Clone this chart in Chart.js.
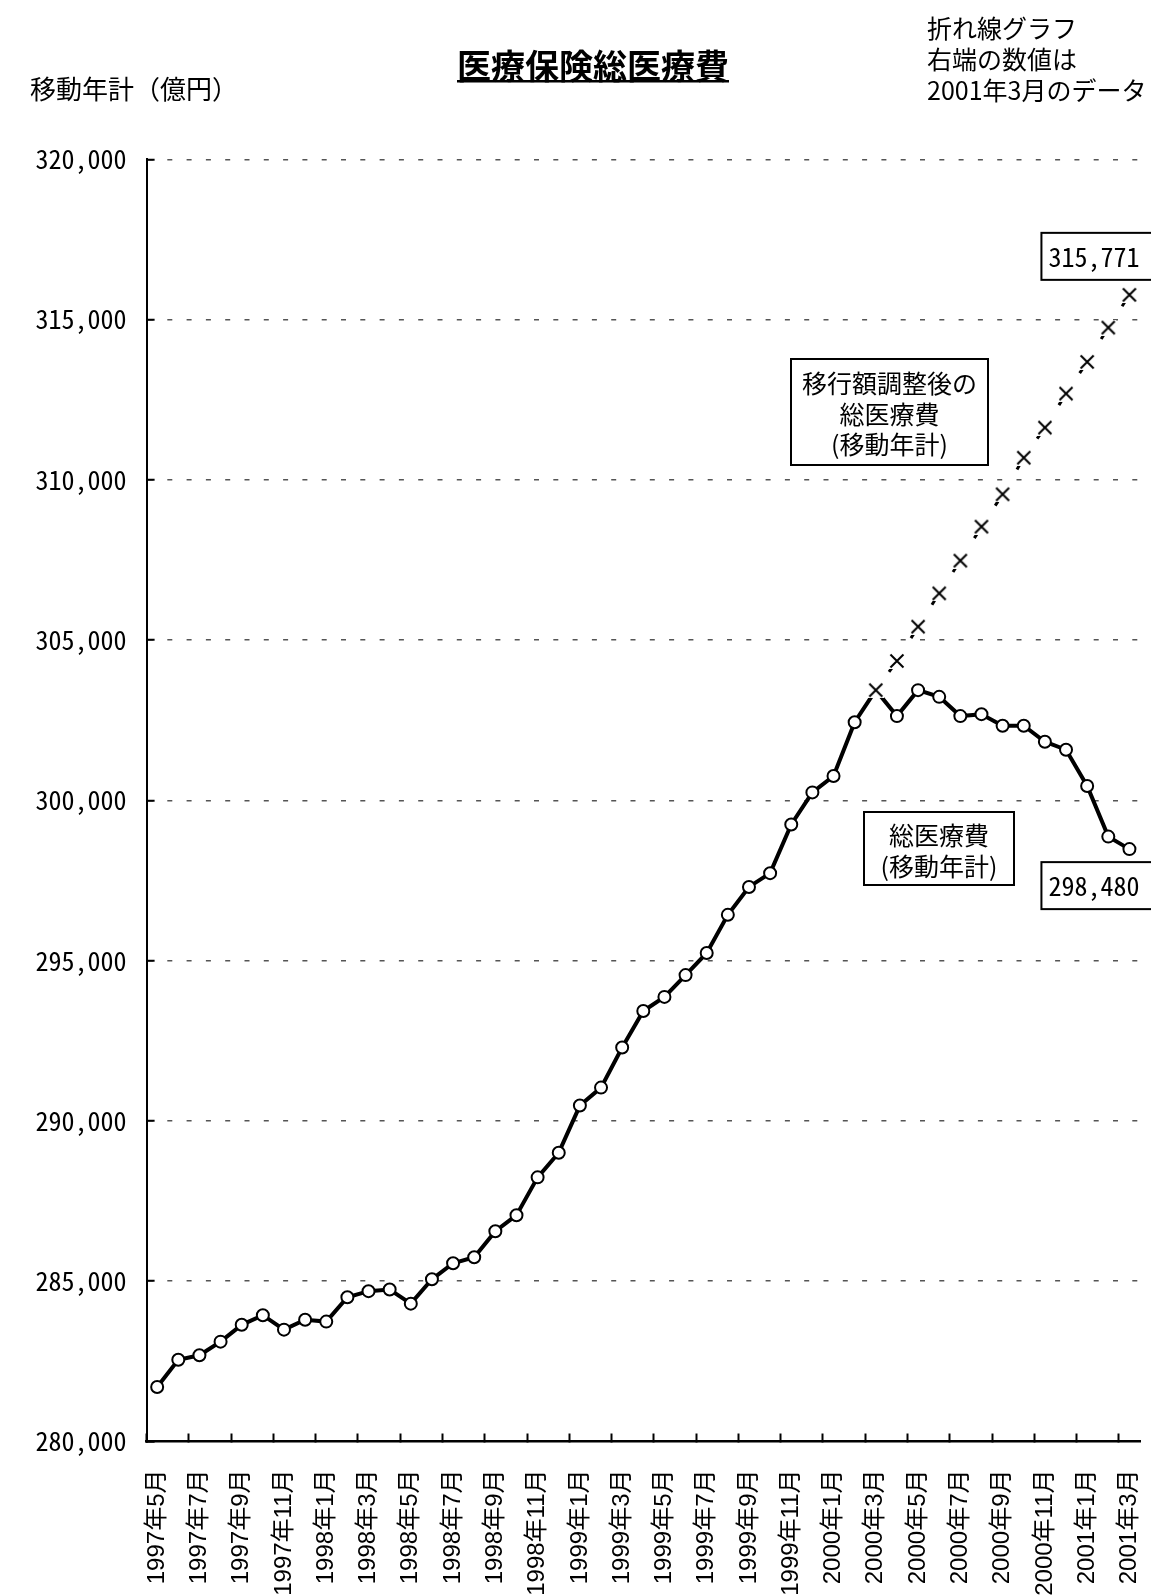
<!DOCTYPE html>
<html lang="ja">
<head>
<meta charset="utf-8">
<title>医療保険総医療費</title>
<script src="https://cdn.jsdelivr.net/npm/chart.js@4/dist/chart.umd.min.js"></script>
<style>
  html, body { margin: 0; padding: 0; background: #fff; }
  #wrap { width: 1151px; height: 1595px; position: relative; }
</style>
</head>
<body>
<div id="wrap"><canvas id="chart" width="1151" height="1595"></canvas></div>
<script>
// Months of the moving annual totals
const months = [
  '1997年5月', '1997年6月', '1997年7月', '1997年8月', '1997年9月', '1997年10月', '1997年11月', '1997年12月',
  '1998年1月', '1998年2月', '1998年3月', '1998年4月', '1998年5月', '1998年6月', '1998年7月', '1998年8月',
  '1998年9月', '1998年10月', '1998年11月', '1998年12月',
  '1999年1月', '1999年2月', '1999年3月', '1999年4月', '1999年5月', '1999年6月', '1999年7月', '1999年8月',
  '1999年9月', '1999年10月', '1999年11月', '1999年12月',
  '2000年1月', '2000年2月', '2000年3月', '2000年4月', '2000年5月', '2000年6月', '2000年7月', '2000年8月',
  '2000年9月', '2000年10月', '2000年11月', '2000年12月',
  '2001年1月', '2001年2月', '2001年3月'
];

// 総医療費（移動年計, 億円）
const totalCost = [
  281700, 282550, 282690, 283115, 283640, 283940, 283490, 283800,
  283740, 284500, 284690, 284740, 284300, 285060, 285560, 285750,
  286560, 287060, 288240, 289010,
  290480, 291040, 292290, 293430, 293870, 294550, 295240, 296430,
  297300, 297730, 299250, 300250,
  300760, 302440, 303440, 302630, 303440, 303230, 302630, 302690,
  302330, 302330, 301830, 301580,
  300450, 298870, 298480
];

// 移行額調整後の総医療費（移動年計, 億円）
const adjustedCost = [
  null, null, null, null, null, null, null, null,
  null, null, null, null, null, null, null, null,
  null, null, null, null,
  null, null, null, null, null, null, null, null,
  null, null, null, null,
  null, null, 303440, 304350, 305420, 306460, 307480, 308540,
  309550, 310690, 311630, 312690,
  313680, 314750, 315771
];

// Value axis range and tick step
const yMin = 280000;
const yMax = 320000;
const yStep = 5000;

const NUM_FONT = '"Noto Sans Mono CJK JP", "DejaVu Sans Mono", monospace';
const JP_FONT = '"Noto Sans CJK JP", sans-serif';
const X_FONT = '"Liberation Sans", "Noto Sans CJK JP", sans-serif';

const fmt = v => v.toLocaleString('en-US');
const adjustedStart = adjustedCost.findIndex(v => v !== null);

// X marker drawn on a small white square, like a classic spreadsheet marker
function crossMarker() {
  const s = 16;
  const c = document.createElement('canvas');
  c.width = s; c.height = s;
  const g = c.getContext('2d');
  g.fillStyle = '#fff';
  g.fillRect(0, 0, s, s);
  g.strokeStyle = '#000';
  g.lineWidth = 2;
  g.beginPath();
  g.moveTo(1.5, 1.5); g.lineTo(s - 1.5, s - 1.5);
  g.moveTo(s - 1.5, 1.5); g.lineTo(1.5, s - 1.5);
  g.stroke();
  return c;
}

function box(ctx, x, y, w, h) {
  ctx.lineWidth = 2;
  ctx.strokeStyle = '#000';
  ctx.fillStyle = '#fff';
  ctx.fillRect(x, y, w, h);
  ctx.strokeRect(x, y, w, h);
}

function valueBox(ctx, px, top, value) {
  const x = px - 88;
  box(ctx, x, top, 140, 47);
  ctx.fillStyle = '#000';
  ctx.font = '26px ' + NUM_FONT;
  ctx.textAlign = 'left';
  ctx.textBaseline = 'middle';
  ctx.fillText(fmt(value), x + 7, top + 24);
}

const annotations = {
  id: 'annotations',
  afterDraw(chart) {
    const ctx = chart.ctx;
    ctx.save();
    ctx.fillStyle = '#000';
    ctx.textBaseline = 'middle';

    // Title with underline
    ctx.font = 'bold 34px ' + JP_FONT;
    ctx.textAlign = 'center';
    const title = '医療保険総医療費';
    ctx.fillText(title, 593, 66);
    const tw = ctx.measureText(title).width;
    ctx.fillRect(593 - tw / 2, 80, tw, 2.5);

    // Unit label
    ctx.font = '26px ' + JP_FONT;
    ctx.textAlign = 'left';
    ctx.fillText('移動年計（億円）', 30, 89);

    // Note at top right
    ctx.font = '25px ' + JP_FONT;
    ctx.fillText('折れ線グラフ', 927, 28);
    ctx.fillText('右端の数値は', 927, 59);
    ctx.fillText('2001年3月のデータ', 927, 90);

    // Series captions
    box(ctx, 791, 359, 197, 106);
    ctx.fillStyle = '#000';
    ctx.textAlign = 'center';
    ctx.font = '25px ' + JP_FONT;
    ctx.fillText('移行額調整後の', 889.5, 383);
    ctx.fillText('総医療費', 889.5, 414);
    ctx.fillText('(移動年計)', 889.5, 444);

    box(ctx, 864, 812, 150, 73);
    ctx.fillStyle = '#000';
    ctx.fillText('総医療費', 939, 835);
    ctx.fillText('(移動年計)', 939, 866);

    // Latest values
    const last = months.length - 1;
    const pAdj = chart.getDatasetMeta(0).data[last];
    const pTot = chart.getDatasetMeta(1).data[last];
    valueBox(ctx, pAdj.x, pAdj.y - 62, adjustedCost[last]);
    valueBox(ctx, pTot.x, pTot.y + 13, totalCost[last]);

    ctx.restore();
  }
};

new Chart(document.getElementById('chart'), {
  type: 'line',
  data: {
    labels: months,
    datasets: [
      {
        label: '移行額調整後の総医療費',
        data: adjustedCost,
        order: 0,
        borderColor: '#000',
        borderWidth: 3,
        borderCapStyle: 'butt',
        pointStyle: crossMarker(),
        pointRadius: 8,
        segment: {
          // one short dash on each segment, just before the next marker
          borderDash: c => {
            const L = Math.hypot(c.p1.x - c.p0.x, c.p1.y - c.p0.y);
            return [0, L - 13.5, 5, 8.5];
          }
        }
      },
      {
        label: '総医療費',
        data: totalCost,
        order: 1,
        borderColor: '#000',
        borderWidth: 4,
        pointStyle: 'circle',
        pointRadius: c => (c.dataIndex === adjustedStart ? 0 : 6),
        pointBorderWidth: 2,
        pointBorderColor: '#000',
        pointBackgroundColor: '#fff'
      }
    ]
  },
  options: {
    responsive: false,
    devicePixelRatio: 1,
    animation: false,
    events: [],
    layout: { padding: { left: 0, right: 9, top: 159.3, bottom: 0 } },
    plugins: {
      legend: { display: false },
      tooltip: { enabled: false },
      title: { display: false }
    },
    scales: {
      x: {
        type: 'category',
        offset: true,
        ticks: {
          autoSkip: false,
          minRotation: 90,
          maxRotation: 90,
          padding: 36,
          color: '#000',
          font: { family: X_FONT, size: 24 },
          callback(value, index) {
            return index % 2 === 0 ? this.getLabelForValue(value) : '';
          }
        },
        grid: {
          offset: true,
          drawOnChartArea: false,
          tickLength: -8,
          tickWidth: 2,
          tickColor: c => (c.index % 2 === 0 ? '#000' : 'rgba(0,0,0,0)')
        },
        border: { color: '#000', width: 2.5 },
        afterFit: s => {
          s.height = 153.5;
          s.paddingLeft = 0;
          s.paddingRight = 0;
        }
      },
      y: {
        min: yMin,
        max: yMax,
        ticks: {
          stepSize: yStep,
          padding: 28,
          color: '#000',
          font: { family: NUM_FONT, size: 26 },
          callback: v => fmt(v)
        },
        grid: {
          color: c => (c.tick && c.tick.value === yMin ? 'rgba(0,0,0,0)' : '#555'),
          lineWidth: 1.5,
          tickLength: -8,
          tickWidth: 2,
          tickColor: '#000'
        },
        border: { color: '#000', width: 2, dash: [5, 14.3] },
        afterFit: s => {
          s.width = 146.6;
          s.paddingTop = 0;
          s.paddingBottom = 0;
        }
      }
    }
  },
  plugins: [annotations]
});
</script>
</body>
</html>
